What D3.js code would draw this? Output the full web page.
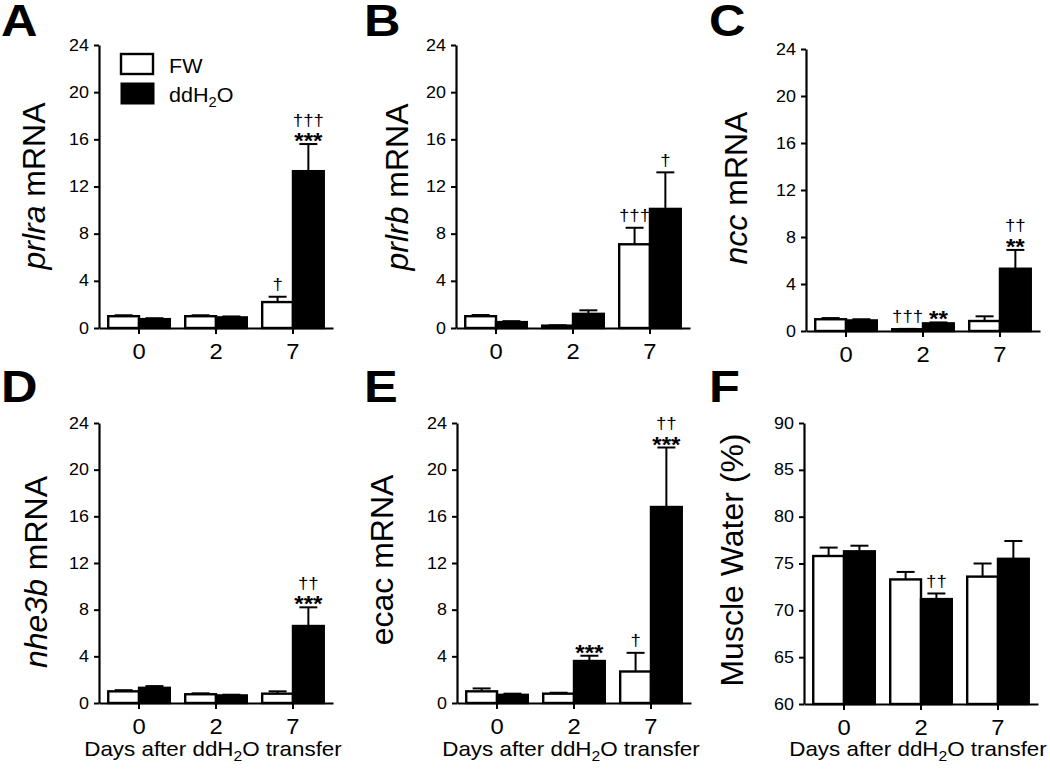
<!DOCTYPE html>
<html><head><meta charset="utf-8">
<script src="https://cdn.jsdelivr.net/npm/d3@7"></script>
<style>
body{margin:0;background:#fff}
svg{display:block}
text{font-family: Arial, "Liberation Sans", Helvetica, sans-serif; fill:#000}
</style>
</head><body>
<svg id="c" width="1050" height="773"></svg>
<script>
// ---------- data ----------
const days = ["0", "2", "7"];
const groups = ["FW", "ddH2O"];
const mrnaTicks = [0, 4, 8, 12, 16, 20, 24];
const waterTicks = [60, 65, 70, 75, 80, 85, 90];

const prlraFW = [1.0, 1.0, 2.2];     const prlraFWse = [0.08, 0.08, 0.45];
const prlraDD = [0.75, 0.9, 13.3];   const prlraDDse = [0.08, 0.08, 2.3];
const prlraMarks = [[0, 2, ["†"]], [1, 2, ["†††", "***"]]];

const prlrbFW = [1.0, 0.2, 7.1];     const prlrbFWse = [0.1, 0.03, 1.4];
const prlrbDD = [0.5, 1.2, 10.1];    const prlrbDDse = [0.08, 0.3, 3.1];
const prlrbMarks = [[0, 2, ["†††"]], [1, 2, ["†"]]];

const nccFW = [1.0, 0.15, 0.85];     const nccFWse = [0.1, 0.03, 0.4];
const nccDD = [0.9, 0.65, 5.3];      const nccDDse = [0.1, 0.08, 1.6];
const nccMarks = [[0, 1, ["†††"]], [1, 1, ["**"]], [1, 2, ["††", "**"]]];

const nhe3bFW = [1.0, 0.75, 0.8];    const nhe3bFWse = [0.1, 0.08, 0.2];
const nhe3bDD = [1.3, 0.65, 6.6];    const nhe3bDDse = [0.15, 0.06, 1.6];
const nhe3bMarks = [[1, 2, ["††", "***"]]];

const ecacFW = [1.0, 0.8, 2.7];      const ecacFWse = [0.25, 0.08, 1.6];
const ecacDD = [0.7, 3.6, 16.8];     const ecacDDse = [0.1, 0.45, 5.1];
const ecacMarks = [[1, 1, ["***"]], [0, 2, ["†"]], [1, 2, ["††", "***"]]];

const waterFW = [75.8, 73.3, 73.6];  const waterFWse = [0.9, 0.8, 1.4];
const waterDD = [76.3, 71.2, 75.5];  const waterDDse = [0.6, 0.6, 1.9];
const waterMarks = [[1, 1, ["††"]]];

// ---------- layout ----------
const panels = [
  {letter:"A", lx:1,   ly:36,  x0:99,  top:45,  zero:328, domain:[0,24], ticks:mrnaTicks, gene:"prlra", italic:true,  rest:" mRNA", tx:45,  ty:186, means:[prlraFW,prlraDD], ses:[prlraFWse,prlraDDse], marks:prlraMarks, legend:true, xtitle:false},
  {letter:"B", lx:364, ly:36,  x0:456, top:45,  zero:328, domain:[0,24], ticks:mrnaTicks, gene:"prlrb", italic:true,  rest:" mRNA", tx:408, ty:187, means:[prlrbFW,prlrbDD], ses:[prlrbFWse,prlrbDDse], marks:prlrbMarks},
  {letter:"C", lx:709, ly:36,  x0:806, top:49,  zero:331, domain:[0,24], ticks:mrnaTicks, gene:"ncc",   italic:true,  rest:" mRNA", tx:747, ty:188, means:[nccFW,nccDD], ses:[nccFWse,nccDDse], marks:nccMarks},
  {letter:"D", lx:1,   ly:402, x0:99,  top:423, zero:703, domain:[0,24], ticks:mrnaTicks, gene:"nhe3b", italic:true,  rest:" mRNA", tx:47,  ty:572, means:[nhe3bFW,nhe3bDD], ses:[nhe3bFWse,nhe3bDDse], marks:nhe3bMarks, xtitle:true},
  {letter:"E", lx:364, ly:402, x0:457, top:423, zero:703, domain:[0,24], ticks:mrnaTicks, gene:"ecac",  italic:false, rest:" mRNA", tx:393, ty:560, means:[ecacFW,ecacDD], ses:[ecacFWse,ecacDDse], marks:ecacMarks, xtitle:true},
  {letter:"F", lx:709, ly:402, x0:804, top:423, zero:704, domain:[60,90], ticks:waterTicks, gene:"", italic:false, rest:"Muscle Water (%)", tx:743, ty:560, means:[waterFW,waterDD], ses:[waterFWse,waterDDse], marks:waterMarks, xtitle:true}
];

const svg = d3.select("#c");
svg.append("rect").attr("width",1050).attr("height",773).attr("fill","#fff");

function styleAxis(sel) {
  sel.selectAll("path.domain").attr("stroke","#000").attr("stroke-width",2.2);
  sel.selectAll(".tick line").attr("stroke","#000").attr("stroke-width",2);
}

panels.forEach(p => {
  const g = svg.append("g");
  const y = d3.scaleLinear().domain(p.domain).range([p.zero, p.top]);
  const x = d3.scaleBand().domain(days).range([p.x0, p.x0 + 234]).paddingOuter(0.02).paddingInner(0);
  const groupW = x.step() * 0.8;
  const xs = d3.scaleBand().domain(groups).range([0, groupW]);
  const off = (x.bandwidth() - groupW) / 2;
  const base = p.domain[0];

  // bars + error bars
  groups.forEach((s, si) => {
    days.forEach((d, i) => {
      const v = p.means[si][i], se = p.ses[si][i];
      const bx = x(d) + off + xs(s), bw = xs.bandwidth();
      const cx = bx + bw / 2;
      g.append("line").attr("x1",cx).attr("x2",cx).attr("y1",y(v)).attr("y2",y(v+se))
        .attr("stroke","#000").attr("stroke-width",2);
      g.append("line").attr("x1",cx-9).attr("x2",cx+9).attr("y1",y(v+se)).attr("y2",y(v+se))
        .attr("stroke","#000").attr("stroke-width",2);
      g.append("rect").attr("x",bx).attr("y",y(v)).attr("width",bw).attr("height",y(base)-y(v))
        .attr("fill", si === 0 ? "#fff" : "#000").attr("stroke","#000").attr("stroke-width",2.4);
    });
  });

  // annotations
  p.marks.forEach(([si, di, lines]) => {
    const d = days[di];
    const cx = x(d) + off + xs(groups[si]) + xs.bandwidth()/2;
    let cur = y(p.means[si][di] + p.ses[si][di]) - 4;
    for (let k = lines.length - 1; k >= 0; k--) {
      const t = lines[k];
      if (t.includes("*")) {
        const b = cur + 8;
        g.append("text").attr("transform",`translate(${cx},${b}) scale(1.1,1)`).attr("text-anchor","middle")
          .attr("font-size",22).attr("font-weight","bold").text(t);
        cur = b - 16 - 4;
      } else {
        const b = cur - 2.5;
        g.append("text").attr("transform",`translate(${cx},${b}) scale(1.1,1)`).attr("text-anchor","middle")
          .attr("font-size",17).text(t);
        cur = b - 12.5 - 4;
      }
    }
  });

  // axes
  const ya = g.append("g").attr("transform",`translate(${p.x0},0)`)
    .call(d3.axisLeft(y).tickValues(p.ticks).tickSize(5).tickSizeOuter(0).tickPadding(4).tickFormat(d3.format("d")));
  ya.selectAll("text").attr("font-size",16).attr("transform","scale(1.12,1)")
    .attr("font-family","Arial, 'Liberation Sans', sans-serif").attr("fill","#000");
  styleAxis(ya);
  const xa = g.append("g").attr("transform",`translate(0,${p.zero})`)
    .call(d3.axisBottom(x).tickSize(6).tickSizeOuter(0).tickPadding(9));
  xa.selectAll("text").attr("font-size",22).attr("transform","scale(1.08,1)")
    .attr("font-family","Arial, 'Liberation Sans', sans-serif").attr("fill","#000");
  styleAxis(xa);

  // y title
  const yt = g.append("text").attr("transform",`translate(${p.tx},${p.ty}) rotate(-90)`)
    .attr("text-anchor","middle").attr("font-size",32);
  if (p.gene) yt.append("tspan").attr("font-style", p.italic ? "italic" : "normal").text(p.gene);
  yt.append("tspan").text(p.rest);

  // panel letter
  g.append("text").attr("transform",`translate(${p.lx},${p.ly}) scale(1.15,1)`)
    .attr("font-size",44).attr("font-weight","bold").text(p.letter);

  // x title
  if (p.xtitle) {
    const xt = g.append("text").attr("transform",`translate(${p.x0 + 114},756) scale(1.12,1)`)
      .attr("text-anchor","middle").attr("font-size",20);
    xt.append("tspan").text("Days after ddH");
    xt.append("tspan").attr("font-size",14).attr("dy",5).text("2");
    xt.append("tspan").attr("dy",-5).text("O transfer");
  }

  // legend
  if (p.legend) {
    g.append("rect").attr("x",121).attr("y",54).attr("width",32).attr("height",20)
      .attr("fill","#fff").attr("stroke","#000").attr("stroke-width",2.4);
    g.append("rect").attr("x",121).attr("y",83).attr("width",33).attr("height",21)
      .attr("fill","#000").attr("stroke","#000").attr("stroke-width",1);
    g.append("text").attr("transform","translate(169,73) scale(1.05,1)").attr("font-size",20.5).text("FW");
    const lt = g.append("text").attr("transform","translate(169,102) scale(1.05,1)").attr("font-size",20.5);
    lt.append("tspan").text("ddH");
    lt.append("tspan").attr("font-size",14).attr("dy",5).text("2");
    lt.append("tspan").attr("dy",-5).text("O");
  }
});
</script>
</body></html>
